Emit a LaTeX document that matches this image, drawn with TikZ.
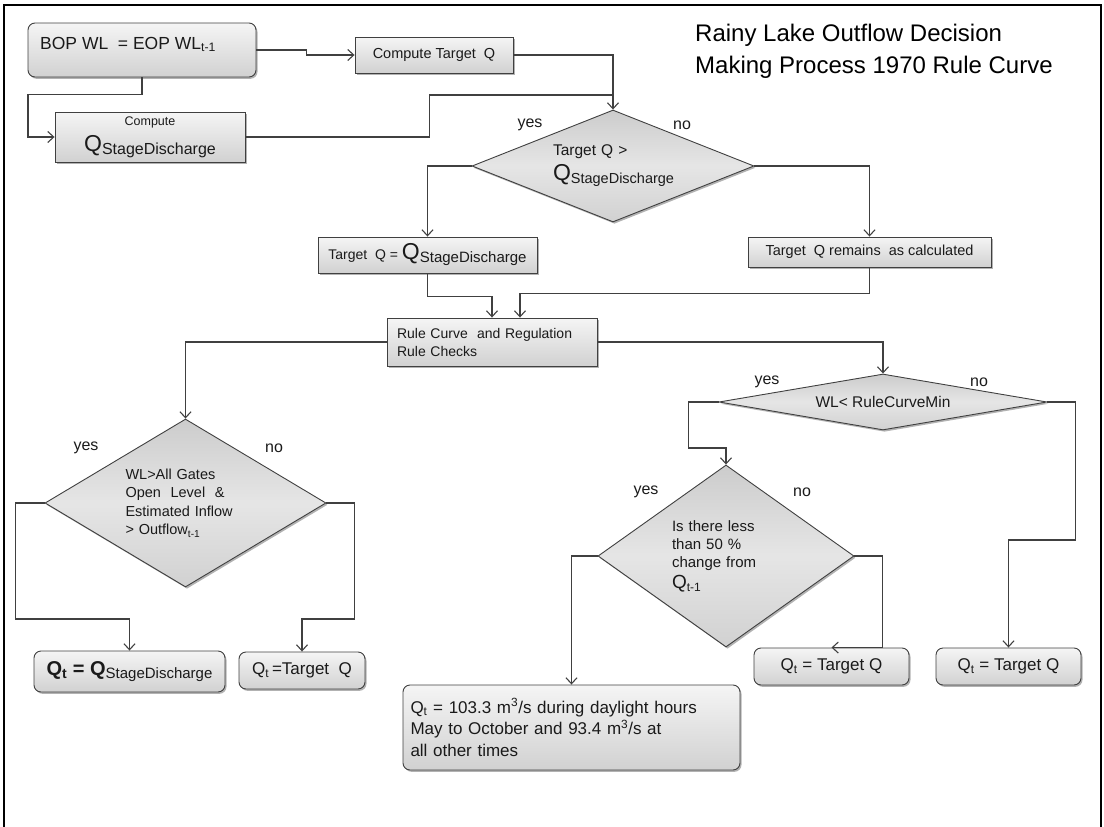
\documentclass[tikz,border=0pt]{standalone}
\usepackage{fontspec}
\setmainfont{Liberation Sans}
\usetikzlibrary{shapes.geometric,arrows.meta,shadows,shadings}

\definecolor{edge}{HTML}{404040}
\definecolor{ink}{HTML}{1A1A1A}

% font size shortcut (size = baselineskip)
\newcommand\fs[1]{\fontsize{#1}{#1}\selectfont}
% large Q followed by a lowered subscript text
\newcommand\BigQ[3]{{\fs{#1}Q}\raisebox{-#2}{#3}}

\tikzset{
  every node/.style={text=ink, inner sep=0pt},
  shadowed/.style={drop shadow={shadow xshift=1.5pt, shadow yshift=-1.8pt, opacity=0.3, fill=black}},
  procbox/.style={rectangle, draw=edge, line width=0.9pt, top color=gray!8, bottom color=gray!36, shadowed},
  roundbox/.style={procbox, rounded corners=7pt},
  decision/.style={diamond, draw=edge, line width=0.9pt, top color=gray!40, bottom color=gray!36, middle color=gray!20, shadowed},
  conn/.style={draw=edge, line width=1.1pt, -{Straight Barb[length=6pt,width=11pt,line width=1.1pt]}},
  link/.style={draw=edge, line width=1.1pt},
  yn/.style={font=\fs{16}},
}

\begin{document}
\begin{tikzpicture}[x=1pt,y=-1pt]
\useasboundingbox (0,0) rectangle (1104,827);

% outer frame
\draw[line width=2.6pt, black] (4,827) -- (4,5) -- (1101,5) -- (1101,827);

% title
\node[anchor=base west, font=\fs{24}, text=black] (title1) at (695,41) {Rainy Lake Outflow Decision};
\node[anchor=base west, font=\fs{24}, text=black] (title2) at (695,73) {Making Process 1970 Rule Curve};

% upper part
\node[roundbox, minimum width=228pt, minimum height=54pt] (bop) at (142,50) {};
\node[anchor=base west, font=\fs{17.5}] (boptext) at (40,49) {BOP WL\ \ = EOP WL\textsubscript{t-1}};

\node[procbox, minimum width=158pt, minimum height=36pt, font=\fs{14.5}] (ctq) at (434,55) {Compute Target\ \ Q};

\node[procbox, minimum width=190pt, minimum height=50pt, align=center, font=\fontsize{12.5}{26}\selectfont] (qsd) at (150,137)
  {Compute\\\BigQ{23}{3pt}{\fs{16}StageDischarge}};

\node[decision, aspect=2.5, minimum width=282pt, minimum height=112pt, text width=120pt, align=left,
      font=\fontsize{15.5}{25}\selectfont] (d1) at (613,166)
  {Target Q >\\\BigQ{23}{3pt}{\fs{14.5}StageDischarge}};
\node[yn] (d1yes) at (530,125) {yes};
\node[yn] (d1no) at (682,125) {no};

\node[procbox, minimum width=219pt, minimum height=36pt, font=\fs{14}] (tqq) at (427.5,255)
  {Target\ \ Q = \BigQ{23}{3pt}{\fs{15}StageDischarge}};
\node[procbox, minimum width=243pt, minimum height=30pt, font=\fs{14.5}] (tqr) at (869.5,252)
  {Target\ \ Q remains\ \ as calculated};

\node[procbox, minimum width=210pt, minimum height=48pt, text width=190pt, align=left,
      font=\fontsize{14}{18}\selectfont] (rule) at (492,342)
  {Rule Curve\ \ and Regulation\\Rule Checks};

% left branch
\node[decision, aspect=1.67, minimum width=281pt, minimum height=168pt, text width=120pt, align=left,
      font=\fontsize{14.5}{18.5}\selectfont] (dL) at (185.5,503)
  {WL>All Gates\\Open\ \ Level\ \ \&\\Estimated Inflow\\> Outflow\textsubscript{t-1}};
\node[yn] (dLyes) at (86,448) {yes};
\node[yn] (dLno) at (274,448) {no};

\node[roundbox, minimum width=191pt, minimum height=41pt] (qtq) at (129.5,671.5)
  {{\bfseries\fs{20}Q\textsubscript{t} = Q}\raisebox{-3pt}{\fs{15}StageDischarge}};
\node[roundbox, minimum width=126pt, minimum height=37pt, font=\fs{17}] (qtt1) at (302,670.5)
  {Q\textsubscript{t}\,=Target\ \ Q};

% right branch
\node[decision, aspect=5.9, minimum width=328pt, minimum height=56pt, font=\fs{15.5}] (dR) at (883,402)
  {WL< RuleCurveMin};
\node[yn] (dRyes) at (767,382) {yes};
\node[yn] (dRno) at (979,382) {no};

\node[decision, aspect=1.4, minimum width=256pt, minimum height=182pt, text width=108pt, align=left,
      font=\fontsize{15}{18}\selectfont] (d3) at (726,556)
  {Is there less\\than 50 \%\\change from\\[3pt]\BigQ{19}{3pt}{\fs{12}t-1}};
\node[yn] (d3yes) at (646,492) {yes};
\node[yn] (d3no) at (802,492) {no};

\node[roundbox, minimum width=155pt, minimum height=37pt, font=\fs{17}] (qtt2) at (831.5,666.5)
  {Q\textsubscript{t} = Target Q};
\node[roundbox, minimum width=145pt, minimum height=37pt, font=\fs{17}] (qtt3) at (1008.5,666.5)
  {Q\textsubscript{t} = Target Q};

\node[roundbox, minimum width=337pt, minimum height=85pt, text width=322pt, align=left,
      font=\fontsize{17}{21.5}\selectfont] (big) at (571.5,727.5)
  {Q\textsubscript{t} = 103.3 m\textsuperscript{3}/s during daylight hours\\
   May to October and 93.4 m\textsuperscript{3}/s at\\
   all other times};

% connectors
\coordinate (j1) at (613,95);
\draw[conn] (bop.east) -- ++(50,0) |- (ctq.west);
\draw[conn] (bop.south) -- ++(0,17) -- ++(-114,0) |- (qsd.west);
\draw[conn] (ctq.east) -| (d1.north);
\draw[link] (qsd.east) -- ++(184,0) |- (j1);
\draw[conn] (d1.west) -| (tqq.north);
\draw[conn] (d1.east) -| (tqr.north);
\draw[conn] (tqq.south) -- ++(0,23) -| (rule.north);
\draw[conn] (tqr.south) -- ++(0,26) -| ([xshift=28pt]rule.north);
\draw[conn] (rule.west) -| (dL.north);
\draw[conn] (rule.east) -| (dR.north);
\draw[conn] (dL.west) -- ++(-29,0) -- ++(0,116) -| (qtq.north);
\draw[conn] (dL.east) -- ++(28,0) -- ++(0,116) -| (qtt1.north);
\draw[conn] (dR.west) -- ++(-30,0) -- ++(0,46) -| (d3.north);
\draw[conn] (dR.east) -- ++(28,0) -- ++(0,138) -| (qtt3.north);
\draw[conn] (d3.west) -| (big.north);
\draw[conn] (d3.east) -- ++(28,0) |- (qtt2.north);
\end{tikzpicture}
\end{document}
